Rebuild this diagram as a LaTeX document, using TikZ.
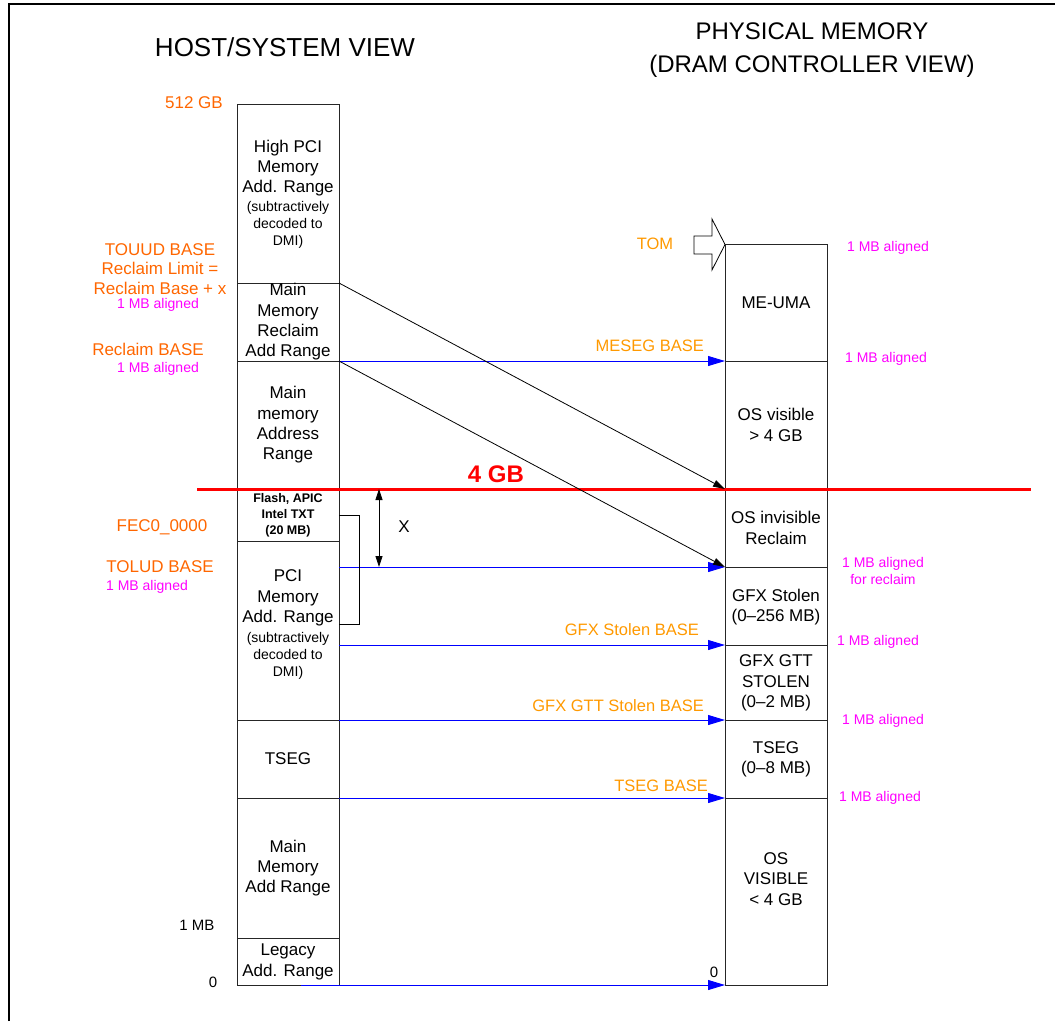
\documentclass[tikz,border=0pt]{standalone}
\usepackage{fontspec}
\setmainfont{Liberation Sans}
\usetikzlibrary{arrows.meta}

\definecolor{addrorange}{RGB}{255,102,0}
\definecolor{baseorange}{RGB}{255,153,0}
\definecolor{alignpink}{RGB}{255,0,255}

\begin{document}
\begin{tikzpicture}[x=1pt,y=-1pt,
    every node/.style={inner sep=0pt},
    title/.style={align=center,font=\fontsize{24}{33}\selectfont},
    rangetext/.style={align=center,font=\fontsize{17}{20.3}\selectfont},
    smalltext/.style={align=center,font=\fontsize{14}{17}\selectfont},
    addrlabel/.style={align=center,text=addrorange,font=\fontsize{17}{19.5}\selectfont},
    baselabel/.style={anchor=east,text=baseorange,font=\fontsize{16.5}{18}\selectfont},
    aligned/.style={align=center,text=alignpink,font=\fontsize{14}{17}\selectfont},
    memline/.style={black!85,line width=0.8pt},
    basearrow/.style={blue,line width=0.9pt,-{Triangle[length=17pt,width=10pt]}},
    remap/.style={black,line width=0.8pt,-{Triangle[length=12pt,width=7pt]}}]

    \useasboundingbox (0,0) rectangle (1055,1021);
    % Frame (cut at right and bottom)
    \draw[line width=2.6pt] (9,1021) -- (9,4) -- (1055,4);

    % Titles
    \node[title,font=\fontsize{26}{33}\selectfont] (hosttitle) at (285,47) {HOST/SYSTEM VIEW};
    \node[title] (phystitle) at (812,50) {PHYSICAL MEMORY\\(DRAM CONTROLLER VIEW)};

    % Host column
    \draw[memline] (237,104) rectangle (339,985);
    \foreach \y in {283,361,489,541,720,798,938} {
        \draw[memline] (237,\y) -- (339,\y);
    }
    % Physical column
    \draw[memline] (725,244) rectangle (827,985);
    \foreach \y in {361,489,567,645,720,798} {
        \draw[memline] (725,\y) -- (827,\y);
    }

    % Host ranges
    \node[rangetext] (highpci) at (288,168) {High PCI\\Memory\\Add. Range};
    \node[smalltext] (highpcinote) at (288,225) {(subtractively\\decoded to\\DMI)};
    \node[rangetext] (reclaimrange) at (288,322) {Main\\Memory\\Reclaim\\Add Range};
    \node[rangetext] (mainhigh) at (288,425) {Main\\memory\\Address\\Range};
    \node[align=center,font=\bfseries\fontsize{12.5}{16}\selectfont] (flash) at (288,515) {Flash, APIC\\Intel TXT\\(20 MB)};
    \node[rangetext] (pcimem) at (288,598) {PCI\\Memory\\Add. Range};
    \node[smalltext] (pcinote) at (288,656) {(subtractively\\decoded to\\DMI)};
    \node[rangetext] (tseghost) at (288,759) {TSEG};
    \node[rangetext] (mainlow) at (288,868) {Main\\Memory\\Add Range};
    \node[rangetext] (legacy) at (288,962) {Legacy\\Add. Range};

    % Physical ranges
    \node[rangetext] (meuma) at (776,303) {ME-UMA};
    \node[rangetext] (osvisible) at (776,425) {OS visible\\> 4 GB};
    \node[rangetext] (osinvisible) at (776,528) {OS invisible\\Reclaim};
    \node[rangetext] (gfxstolen) at (776,607) {GFX Stolen\\(0\textendash256 MB)};
    \node[rangetext] (gttstolen) at (776,683) {GFX GTT\\STOLEN\\(0\textendash2 MB)};
    \node[rangetext] (tsegphys) at (776,759) {TSEG\\(0\textendash8 MB)};
    \node[rangetext] (osvislow) at (776,879) {OS\\VISIBLE\\< 4 GB};

    % Host address labels
    \node[addrlabel] (top512) at (194,103) {512 GB};
    \node[addrlabel] (touud) at (160,269) {TOUUD BASE\\Reclaim Limit =\\Reclaim Base + x};
    \node[aligned] (touudalign) at (158,305) {1 MB aligned};
    \node[addrlabel] (reclaimbase) at (148,349) {Reclaim BASE};
    \node[aligned] (reclaimalign) at (158,369) {1 MB aligned};
    \node[addrlabel] (fec0) at (162,527) {FEC0\_0000};
    \node[addrlabel] (tolud) at (160,567) {TOLUD BASE};
    \node[aligned] (toludalign) at (147,587) {1 MB aligned};
    \node[font=\fontsize{15}{18}\selectfont] (onemb) at (197,925) {1 MB};
    \node[font=\fontsize{15}{18}\selectfont] (hostzero) at (213,982) {0};
    \node[font=\fontsize{15}{18}\selectfont] (physzero) at (714,972) {0};

    % Alignment notes, physical side
    \foreach \x/\y/\n in {888/248/a,886/359/b,878/642/c,883/721/d,880/798/e} {
        \node[aligned] (align-\n) at (\x,\y) {1 MB aligned};
    }
    \node[aligned] (align-reclaim) at (883,571) {1 MB aligned\\for reclaim};

    % 4 GB boundary
    \draw[red,line width=3pt] (197,489) -- (1031,489);
    \node[text=red,font=\bfseries\fontsize{24}{28}\selectfont] (fourgb) at (496,474) {4 GB};

    % TOM block arrow
    \draw[line width=0.8pt,fill=white] (694,236) -- (712,236) -- (712,219) -- (725,244.5)
        -- (712,270) -- (712,254) -- (694,254) -- cycle;
    \node[text=baseorange,font=\fontsize{16.5}{18}\selectfont] (tom) at (655,244) {TOM};

    % Base arrows
    \foreach \y/\n in {361/meseg,567/tolud,645/gfx,720/gtt,798/tseg} {
        \coordinate (host-\n) at (339,\y);
        \coordinate (phys-\n) at (725,\y);
        \draw[basearrow] (host-\n) -- (phys-\n);
    }
    \coordinate (host-zero) at (301,985);
    \coordinate (phys-zero) at (725,985);
    \draw[basearrow] (host-zero) -- (phys-zero);

    \node[baselabel] (mesegbase) at (704,346) {MESEG BASE};
    \node[baselabel] (gfxbase) at (699,630) {GFX Stolen BASE};
    \node[baselabel] (gttbase) at (704,706) {GFX GTT Stolen BASE};
    \node[baselabel] (tsegbase) at (708,786) {TSEG BASE};

    % Reclaim remapping
    \coordinate (host-touud) at (339,283);
    \coordinate (host-reclaim) at (339,361);
    \coordinate (phys-4gb) at (725,489);
    \draw[remap] (host-touud) -- (phys-4gb);
    \draw[remap] (host-reclaim) -- (phys-tolud);

    % Reclaim size X
    \draw[line width=0.8pt] (339,515) -- (359,515) -- (359,624) -- (339,624);
    \coordinate (xtop) at (379,489);
    \coordinate (xbot) at (379,567);
    \draw[line width=0.8pt,{Triangle[length=11pt,width=7pt]}-{Triangle[length=11pt,width=7pt]}] (xtop) -- (xbot);
    \node[font=\fontsize{17}{20}\selectfont] (xsize) at (404,527) {X};
\end{tikzpicture}
\end{document}
